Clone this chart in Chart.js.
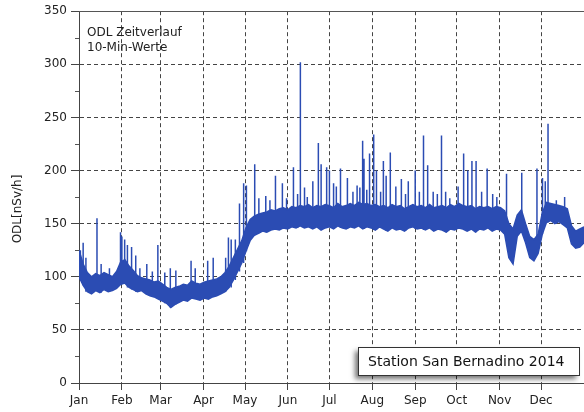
<!DOCTYPE html>
<html>
<head>
<meta charset="utf-8">
<script src="https://cdn.jsdelivr.net/npm/chart.js@4/dist/chart.umd.min.js"></script>
<style>
  html, body { margin: 0; padding: 0; background: #fff; }
  #wrap { width: 584px; height: 412px; }
</style>
</head>
<body>
<div id="wrap"><canvas id="chart" width="584" height="412"></canvas></div>
<script>
// Monatsachse (Tag im Jahr)
const monthNames = ["Jan", "Feb", "Mar", "Apr", "May", "Jun", "Jul", "Aug", "Sep", "Oct", "Nov", "Dec"];
const monthStarts = [0, 31, 59, 90, 120, 151, 181, 212, 243, 273, 304, 334];
const yTicks = [0, 50, 100, 150, 200, 250, 300, 350];

const bandStep = 365 / 121;
const bandLow = [
  100, 92, 86, 84, 87, 85, 88, 86, 87, 89, 93, 94, 90, 88, 86, 87, 84, 82, 81, 79,
  77, 75, 71, 74, 76, 78, 77, 80, 79, 78, 80, 79, 81, 82, 84, 86, 90, 97, 105, 113,
  124, 134, 139, 141, 143, 142, 144, 145, 144, 146, 145, 147, 146, 148, 146, 147, 145, 147, 144, 146,
  147, 145, 148, 146, 145, 147, 146, 148, 145, 147, 146, 144, 147, 145, 143, 146, 144, 145, 143, 146,
  147, 145, 146, 144, 146, 143, 145, 144, 142, 145, 144, 146, 145, 143, 145, 142, 145, 144, 146, 143,
  145, 144, 140, 118, 112, 138, 143, 132, 118, 115, 122, 140, 151, 153, 150, 152, 149, 146, 131, 127,
  128, 132
];
const bandHigh = [
  125, 112, 104, 100, 103, 101, 104, 102, 100, 105, 114, 116, 110, 106, 101, 99, 98, 97, 95, 96,
  93, 90, 88, 90, 91, 93, 92, 96, 94, 93, 95, 96, 97, 98, 100, 104, 110, 118, 126, 134,
  146, 154, 157, 159, 160, 161, 163, 162, 164, 165, 163, 166, 165, 167, 166, 168, 165, 167, 166, 168,
  167, 165, 169, 166, 167, 169, 167, 170, 168, 169, 167, 168, 166, 167, 165, 168, 166, 167, 164, 166,
  168, 166, 167, 165, 168, 165, 166, 167, 165, 168, 166, 169, 167, 166, 167, 164, 166, 165, 166, 164,
  166, 165, 162, 150, 145, 158, 163, 150, 138, 135, 140, 160, 170, 169, 168, 167, 166, 164, 148, 143,
  145, 147
];

// Einzelne Spitzen: Tag und Maximalwert
const spikeDays = [
  1, 3, 5, 13, 16, 22, 30, 31, 33, 35, 38, 41, 44, 49, 53, 57, 62, 66, 70, 81, 84,
  93, 97, 106, 108, 110, 113, 116, 119, 121, 127, 130, 135, 138, 142, 147, 150, 155,
  158, 160, 163, 165, 169, 173, 175, 179, 181, 184, 186, 189, 194, 198, 201, 203, 205, 206, 208, 210, 213, 215,
  218, 220, 222, 225, 229, 233, 236, 238, 243, 246, 249, 252, 256, 259, 262, 265, 268, 274, 278, 281, 284, 287,
  291, 295, 299, 302, 309, 320, 331, 335, 337, 339, 345, 351
];
const spikePeaks = [
  125, 132, 118, 155, 112, 108, 142, 138, 135, 130, 128, 120, 108, 112, 105, 130, 104, 108, 106, 115, 108,
  115, 118, 118, 137, 135, 135, 169, 188, 186, 206, 174, 176, 172, 195, 188, 174, 203,
  178, 302, 184, 175, 190, 226, 206, 203, 200, 188, 185, 202, 193, 180, 186, 184, 228, 211, 182, 216, 234, 200,
  180, 209, 195, 217, 185, 192, 178, 190, 200, 180, 233, 205, 180, 178, 233, 180, 174, 185, 216, 200, 209, 209,
  180, 202, 178, 175, 197, 198, 202, 193, 190, 244, 172, 175
];

const blue = "#2b4cb3";

const bandLowPts = bandLow.map((v, i) => ({ x: i * bandStep, y: v }));
const bandHighPts = bandHigh.map((v, i) => ({ x: i * bandStep, y: v }));
const spikePts = [];
spikeDays.forEach((d, i) => {
  const base = bandLow[Math.round(d / bandStep)];
  spikePts.push({ x: d, y: base }, { x: d, y: spikePeaks[i] }, { x: d, y: null });
});

const extras = {
  id: "extras",
  afterDraw(chart) {
    const ctx = chart.ctx;
    const area = chart.chartArea;
    const y = chart.scales.y;
    ctx.save();
    // obere Rahmenlinie
    ctx.strokeStyle = "#555";
    ctx.lineWidth = 1;
    ctx.beginPath();
    ctx.moveTo(area.left, Math.round(area.top) + 0.5);
    ctx.lineTo(area.right, Math.round(area.top) + 0.5);
    ctx.stroke();
    // kleine Zwischenticks
    for (let v = 25; v < 350; v += 50) {
      const py = Math.round(y.getPixelForValue(v)) + 0.5;
      ctx.beginPath();
      ctx.moveTo(area.left - 4, py);
      ctx.lineTo(area.left, py);
      ctx.stroke();
    }
    // Achsentitel
    ctx.fillStyle = "#222";
    ctx.font = "12px 'DejaVu Sans'";
    ctx.textAlign = "center";
    ctx.textBaseline = "middle";
    ctx.translate(18, 209);
    ctx.rotate(-Math.PI / 2);
    ctx.fillText("ODL[nSv/h]", 0, 0);
    ctx.restore();

    ctx.save();
    ctx.fillStyle = "#222";
    ctx.font = "12px 'DejaVu Sans'";
    ctx.textBaseline = "middle";
    ctx.fillText("ODL Zeitverlauf", 87, 33);
    ctx.fillText("10-Min-Werte", 87, 48);

    // Stationsbox mit Schatten
    ctx.shadowColor = "rgba(0,0,0,0.55)";
    ctx.shadowBlur = 5;
    ctx.shadowOffsetX = -3;
    ctx.shadowOffsetY = 4;
    ctx.fillStyle = "#fff";
    ctx.fillRect(358, 347, 221, 28);
    ctx.shadowColor = "transparent";
    ctx.strokeStyle = "#333";
    ctx.strokeRect(358.5, 347.5, 221, 28);
    ctx.fillStyle = "#111";
    ctx.font = "14px 'DejaVu Sans'";
    ctx.fillText("Station San Bernadino 2014", 368, 362);
    ctx.restore();
  }
};

new Chart(document.getElementById("chart"), {
  type: "line",
  data: {
    datasets: [
      {
        data: bandHighPts,
        borderColor: blue,
        backgroundColor: blue,
        borderWidth: 1.5,
        pointRadius: 0,
        fill: "+1"
      },
      {
        data: bandLowPts,
        borderColor: blue,
        borderWidth: 1.5,
        pointRadius: 0,
        fill: false
      },
      {
        data: spikePts,
        borderColor: blue,
        borderWidth: 1.5,
        pointRadius: 0,
        spanGaps: false,
        fill: false
      }
    ]
  },
  options: {
    responsive: false,
    animation: false,
    layout: { padding: { top: 10, right: 0, left: 0, bottom: 0 } },
    plugins: {
      legend: { display: false },
      tooltip: { enabled: false }
    },
    scales: {
      x: {
        type: "linear",
        min: 0,
        max: 365,
        afterBuildTicks: scale => { scale.ticks = monthStarts.map(v => ({ value: v })); },
        afterFit: scale => { scale.height = 29; },
        ticks: {
          autoSkip: false,
          maxRotation: 0,
          padding: 4,
          color: "#222",
          font: { family: "DejaVu Sans", size: 12 },
          callback: v => monthNames[monthStarts.indexOf(v)]
        },
        grid: {
          color: "#444",
          tickColor: "#444",
          tickLength: 7
        },
        border: { color: "#444", dash: [4, 3] }
      },
      y: {
        min: 0,
        max: 350,
        afterBuildTicks: scale => { scale.ticks = yTicks.map(v => ({ value: v })); },
        afterFit: scale => { scale.width = 79; },
        ticks: {
          padding: 4,
          color: "#222",
          font: { family: "DejaVu Sans", size: 12 }
        },
        grid: {
          color: "#444",
          tickColor: "#444",
          tickLength: 8
        },
        border: { color: "#444", dash: [4, 3] }
      }
    }
  },
  plugins: [extras]
});
</script>
</body>
</html>
